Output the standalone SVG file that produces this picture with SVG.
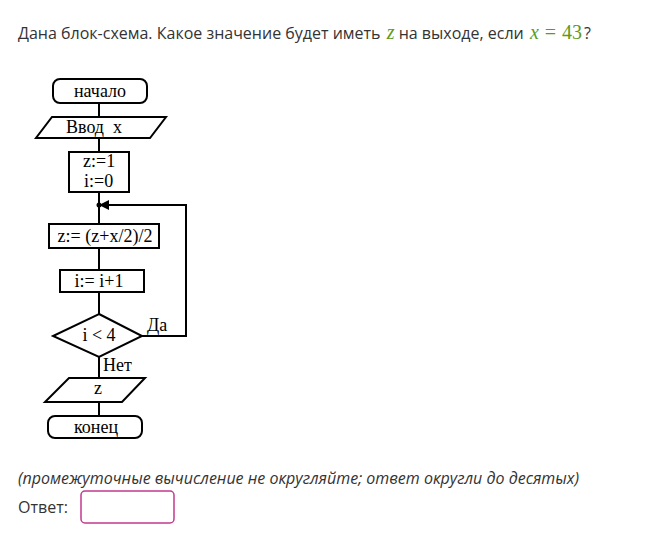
<svg xmlns="http://www.w3.org/2000/svg" width="647" height="541" viewBox="0 0 647 541">
<style>
.q{font-family:"Open Sans","Liberation Sans",sans-serif;font-size:16px;fill:#333}
.m{font-family:"Liberation Serif",serif;font-style:italic;fill:#5e9a1c;font-size:20px}
.mn{font-family:"Liberation Serif",serif;fill:#5e9a1c;font-size:20px}
.f{font-family:"Liberation Serif","Times New Roman",serif;font-size:18px;fill:#000}
.s{fill:#fff;stroke:#000;stroke-width:2}
.c{fill:none;stroke:#000;stroke-width:2}
</style>
<rect width="647" height="541" fill="#fff"/>
<text class="q" x="18" y="39">Дана блок-схема. Какое значение будет иметь <tspan class="m" dx="2">z</tspan><tspan> на выходе, если </tspan><tspan class="m" dx="2">x</tspan><tspan class="mn" dx="6">=</tspan><tspan class="mn" dx="6">43</tspan><tspan dx="2">?</tspan></text>
<g id="connectors">
<path class="c" d="M99 103V117M99 138V152M99 192V224M99 248V270M99 292V314M99 357V378M99 402V416"/>
<path class="c" d="M142 336H186V205H106"/>
<polygon points="99,205 109,200 109,210" fill="#000"/>
<circle cx="99" cy="205" r="2.5" fill="#000"/>
<text class="f" x="147" y="331">Да</text>
<text class="f" x="103" y="371">Нет</text>
</g>
<g id="start"><rect class="s" x="53" y="79" width="94" height="24" rx="7"/><text class="f" x="100" y="97" text-anchor="middle">начало</text></g>
<g id="input"><polygon class="s" points="52,117 166,117 150,138 36,138"/><text class="f" x="66" y="133" xml:space="preserve">Ввод  х</text></g>
<g id="init"><rect class="s" x="69" y="152" width="60" height="40"/><text class="f" x="83" y="167" font-size="17">z:=1</text><text class="f" x="84" y="187" font-size="17">i:=0</text></g>
<g id="calc"><rect class="s" x="49" y="224" width="110" height="24"/><text class="f" x="105" y="242" text-anchor="middle">z:= (z+x/2)/2</text></g>
<g id="inc"><rect class="s" x="60" y="270" width="84" height="22"/><text class="f" x="99" y="287" text-anchor="middle">i:= i+1</text></g>
<g id="cond"><polygon class="s" points="99,314 142,336 99,357 53,336"/><text class="f" x="99" y="341" text-anchor="middle">i &lt; 4</text></g>
<g id="output"><polygon class="s" points="69,378 145,378 122,402 45,402"/><text class="f" x="98" y="394" text-anchor="middle">z</text></g>
<g id="end"><rect class="s" x="48" y="416" width="94" height="22" rx="7"/><text class="f" x="96" y="433" text-anchor="middle">конец</text></g>
<text class="q" x="18" y="484" font-style="italic">(промежуточные вычисление не округляйте; ответ округли до десятых)</text>
<text class="q" x="18" y="513">Ответ:</text>
<rect x="81" y="491" width="93" height="32" rx="4" fill="#fff" stroke="#c2388f" stroke-width="1.5"/>
</svg>
